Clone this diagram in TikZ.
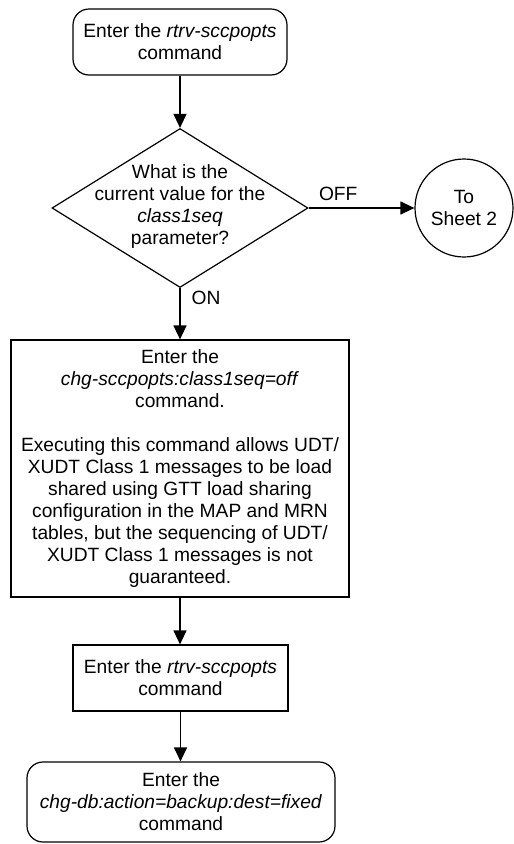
\documentclass[tikz,border=0pt]{standalone}
\usepackage{fontspec}
\setmainfont{Liberation Sans}
\usetikzlibrary{shapes.geometric,arrows.meta}
\begin{document}
\begin{tikzpicture}[x=1pt,y=-1pt,
  every node/.style={font=\fontsize{19.2}{22}\selectfont, align=center, inner sep=0pt},
  box/.style={draw, line width=1.2pt, rectangle},
  rbox/.style={draw, line width=1.2pt, rectangle, rounded corners=16pt},
  dec/.style={draw, line width=1.2pt, diamond},
  conn/.style={draw, line width=1.2pt, circle},
  flow/.style={line width=1.2pt, -{Triangle[length=14pt,width=13pt]}},
  lbl/.style={font=\fontsize{19.2}{22}\selectfont}
]
\useasboundingbox (0,0) rectangle (514,844);

\node[rbox, minimum width=214pt, minimum height=66pt] (start) at (180,42)
  {Enter the \textit{rtrv-sccpopts}\\command};

\node[dec, minimum width=256pt, minimum height=159pt] (q) at (180,208) {};
\node (qt) at (180,207) {What is the\\current value for the\\\textit{class1seq}\\parameter?};

\node[conn, minimum size=98pt] (s2) at (464,208) {To\\Sheet 2};

\node[box, minimum width=338pt, minimum height=257pt] (chg) at (180,468.5)
  {Enter the\\\textit{chg-sccpopts:class1seq=off}\\command.\\[22pt]
   Executing this command allows UDT/\\XUDT Class 1 messages to be load\\
   shared using GTT load sharing\\configuration in the MAP and MRN\\
   tables, but the sequencing of UDT/\\XUDT Class 1 messages is not\\guaranteed.};

\node[box, minimum width=215pt, minimum height=66pt] (rtrv) at (180.5,678)
  {Enter the \textit{rtrv-sccpopts}\\command};

\node[rbox, minimum width=308pt, minimum height=80pt] (bk) at (181,802)
  {Enter the\\\textit{chg-db:action=backup:dest=fixed}\\command};

\draw[flow] (start.south) -- (q.north);
\draw[flow] (q.east) -- (s2.west) node[lbl, pos=0.28, above=7pt] {OFF};
\draw[flow] (q.south) -- (chg.north) node[lbl, pos=0.2, right=11pt] {ON};
\draw[flow] (chg.south) -- (chg.south |- rtrv.north);
\draw[flow] (rtrv.south) -- (rtrv.south |- bk.north);
\end{tikzpicture}
\end{document}
